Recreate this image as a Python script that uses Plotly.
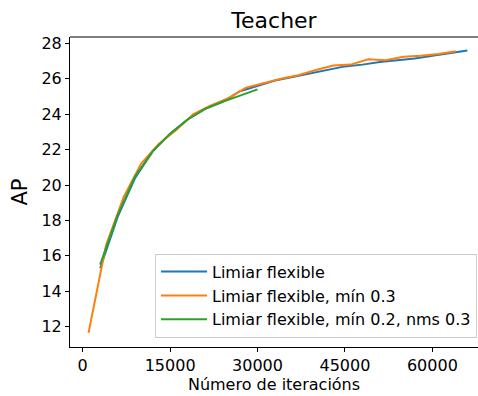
import plotly.graph_objects as go

# Data
iters_blue = [3000, 6000, 9000, 12000, 15000, 18000, 21000, 24000, 27000, 30000,
              33000, 36000, 39000, 42000, 45000, 48000, 51000, 54000, 57000, 60000,
              63000, 66000]
ap_blue = [15.3, 18.2, 20.4, 21.9, 22.9, 23.7, 24.3, 24.7, 25.3, 25.6,
           25.9, 26.1, 26.3, 26.5, 26.7, 26.8, 26.95, 27.05, 27.15, 27.3,
           27.45, 27.6]

iters_orange = [1000, 4000, 7000, 10000, 13000, 16000, 19000, 22000, 25000, 28000,
                31000, 34000, 37000, 40000, 43000, 46000, 49000, 52000, 55000, 58000,
                61000, 64000]
ap_orange = [11.65, 16.6, 19.3, 21.2, 22.3, 23.1, 24.0, 24.5, 24.9, 25.5,
             25.75, 26.0, 26.2, 26.5, 26.75, 26.8, 27.1, 27.05, 27.25, 27.3,
             27.4, 27.55]

iters_green = [3000, 6000, 9000, 12000, 15000, 18000, 21000, 24000, 27000, 30000]
ap_green = [15.5, 18.3, 20.5, 21.9, 22.9, 23.7, 24.3, 24.7, 25.05, 25.4]

names = ["Limiar flexible", "Limiar flexible, mín 0.3", "Limiar flexible, mín 0.2, nms 0.3"]
colors = ["#1f77b4", "#ff7f0e", "#2ca02c"]

x_ticks = [0, 15000, 30000, 45000, 60000]
y_ticks = [12, 14, 16, 18, 20, 22, 24, 26, 28]

FONT = "DejaVu Sans"

fig = go.Figure()
for xs, ys, n, c in zip([iters_blue, iters_orange, iters_green],
                        [ap_blue, ap_orange, ap_green], names, colors):
    fig.add_trace(go.Scatter(x=xs, y=ys, mode="lines", name=n,
                             line=dict(color=c, width=2)))

W, H = 478, 396
L, R, T, B = 70, 0, 37, 49

fig.update_layout(
    width=W, height=H,
    margin=dict(l=L, r=R, t=T, b=B, pad=0),
    paper_bgcolor="white", plot_bgcolor="white",
    font=dict(family=FONT, size=16, color="black"),
    title=dict(text="Teacher", x=(L + (W - L - R) / 2) / W, xanchor="center",
               y=1 - 20 / H, yanchor="middle", yref="container",
               font=dict(size=22, family=FONT, color="black")),
    showlegend=True,
    legend=dict(x=0.9975, xanchor="right", y=0.03, yanchor="bottom",
                bgcolor="rgba(255,255,255,0.8)", bordercolor="#cccccc", borderwidth=1,
                font=dict(size=16, family=FONT, color="black"),
                tracegroupgap=0, itemwidth=46),
)

fig.update_xaxes(
    range=[-2179, 67832], tickvals=x_ticks, ticktext=[str(v) for v in x_ticks],
    showgrid=False, zeroline=False, showline=True, linecolor="black", linewidth=1,
    ticks="outside", ticklen=4, tickwidth=1, tickcolor="black",
    tickfont=dict(size=16, family=FONT),
    title=dict(text="Número de iteracións", font=dict(size=16, family=FONT), standoff=4),
)
fig.update_yaxes(
    range=[10.85, 28.36], tickvals=y_ticks, ticktext=[str(v) for v in y_ticks],
    showgrid=False, zeroline=False, showline=True, linecolor="black", linewidth=1,
    ticks="outside", ticklen=4, tickwidth=1, tickcolor="black",
    tickfont=dict(size=16, family=FONT),
    title=dict(text="AP", font=dict(size=21, family=FONT), standoff=8),
)

# top spine
fig.add_shape(type="line", xref="paper", yref="paper", x0=0, x1=1, y0=1, y1=1,
              line=dict(color="black", width=1))

fig.write_html("out.html")
